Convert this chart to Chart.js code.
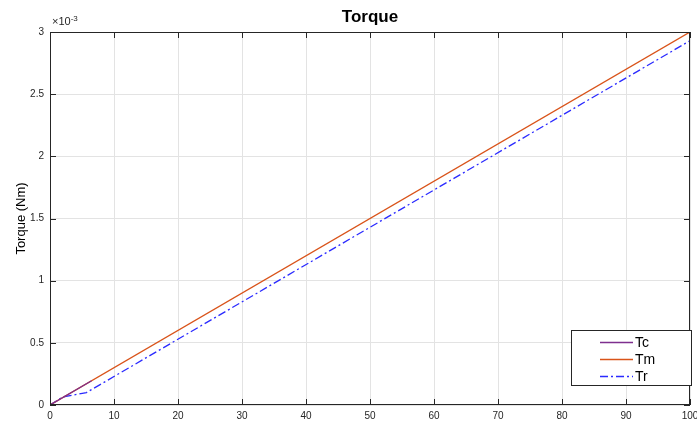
<!DOCTYPE html>
<html>
<head>
<meta charset="utf-8">
<script src="https://cdn.jsdelivr.net/npm/chart.js@4/dist/chart.umd.min.js"></script>
<style>
  html, body { margin: 0; padding: 0; background: #fff; }
  #wrap { width: 697px; height: 426px; }
</style>
</head>
<body>
<div id="wrap"><canvas id="torque-chart"></canvas></div>
<script>
// valores (Nm)
const seriesNames = ['Tc', 'Tm', 'Tr'];
const tcX = [0, 6.5];
const tcY = [0, 0.000195];
const tmX = [0, 100];
const tmY = [0, 0.003];
const trX = [0, 2, 5.7, 100];
const trY = [0, 0.000065, 0.0001, 0.00293];
const xTicks = [0, 10, 20, 30, 40, 50, 60, 70, 80, 90, 100];
const yTicks = [0, 0.0005, 0.001, 0.0015, 0.002, 0.0025, 0.003];

const toPoints = (xs, ys) => xs.map((x, i) => ({ x, y: ys[i] }));
const FONT = '"Liberation Sans", Arial, sans-serif';

// caja de ejes, ticks interiores, titulo, exponente y leyenda
const matlabAxes = {
    id: 'matlabAxes',
    afterDraw(chart) {
        const { ctx, chartArea: a, scales } = chart;
        ctx.save();
        ctx.strokeStyle = '#262626';
        ctx.lineWidth = 1;
        ctx.strokeRect(a.left + 0.5, a.top + 0.5, a.right - a.left - 1, a.bottom - a.top - 1);
        ctx.beginPath();
        xTicks.forEach(t => {
            const px = Math.round(scales.x.getPixelForValue(t)) + 0.5;
            ctx.moveTo(px, a.bottom); ctx.lineTo(px, a.bottom - 6);
            ctx.moveTo(px, a.top); ctx.lineTo(px, a.top + 6);
        });
        yTicks.forEach(t => {
            const py = Math.round(scales.y.getPixelForValue(t)) + 0.5;
            ctx.moveTo(a.left, py); ctx.lineTo(a.left + 6, py);
            ctx.moveTo(a.right, py); ctx.lineTo(a.right - 6, py);
        });
        ctx.stroke();

        // titulo
        ctx.fillStyle = '#000';
        ctx.font = 'bold 17px ' + FONT;
        ctx.textAlign = 'center';
        ctx.textBaseline = 'alphabetic';
        ctx.fillText('Torque', (a.left + a.right) / 2, 22);

        // exponente
        ctx.fillStyle = '#262626';
        ctx.textAlign = 'left';
        ctx.font = '11px ' + FONT;
        ctx.fillText('\u00d710', a.left + 2, 25);
        const w = ctx.measureText('\u00d710').width;
        ctx.font = '8px ' + FONT;
        ctx.fillText('-3', a.left + 2 + w, 21);

        // leyenda
        const lx = 571, ly = 330, lw = 120, lh = 55;
        ctx.fillStyle = '#fff';
        ctx.fillRect(lx, ly, lw, lh);
        ctx.strokeStyle = '#262626';
        ctx.strokeRect(lx + 0.5, ly + 0.5, lw, lh);
        chart.data.datasets.forEach((ds, i) => {
            const y = ly + 12 + i * 17;
            ctx.strokeStyle = ds.borderColor;
            ctx.lineWidth = ds.borderWidth;
            ctx.setLineDash(ds.borderDash || []);
            ctx.beginPath();
            ctx.moveTo(lx + 29, y + 0.5);
            ctx.lineTo(lx + 62, y + 0.5);
            ctx.stroke();
            ctx.setLineDash([]);
            ctx.fillStyle = '#000';
            ctx.font = '14px ' + FONT;
            ctx.textBaseline = 'middle';
            ctx.fillText(ds.label, lx + 64, y + 1);
        });
        ctx.restore();
    }
};

new Chart(document.getElementById('torque-chart'), {
    type: 'scatter',
    data: {
        datasets: [
            { label: seriesNames[0], data: toPoints(tcX, tcY), borderColor: '#7E2F8E', borderWidth: 1.3 },
            { label: seriesNames[1], data: toPoints(tmX, tmY), borderColor: '#D95319', borderWidth: 1.3 },
            { label: seriesNames[2], data: toPoints(trX, trY), borderColor: '#2b2bff', borderWidth: 1.3, borderDash: [8, 3, 2, 3] }
        ].map(d => ({ ...d, showLine: true, pointRadius: 0, fill: false }))
    },
    options: {
        responsive: true,
        maintainAspectRatio: false,
        animation: false,
        layout: { padding: { top: 32, right: 7, left: 0, bottom: 0 } },
        scales: {
            x: {
                type: 'linear', min: 0, max: 100,
                afterBuildTicks: s => { s.ticks = xTicks.map(v => ({ value: v })); },
                afterFit: s => { s.height = 21; s.paddingRight = 0; s.paddingLeft = 0; },
                grid: { color: '#e3e3e3', drawTicks: false },
                border: { display: false },
                ticks: { color: '#262626', font: { size: 10, family: FONT }, padding: 5, maxRotation: 0 }
            },
            y: {
                type: 'linear', min: 0, max: 0.003,
                afterBuildTicks: s => { s.ticks = yTicks.map(v => ({ value: v })); },
                afterFit: s => { s.width = 50; s.paddingTop = 0; s.paddingBottom = 0; },
                grid: { color: '#e3e3e3', drawTicks: false },
                border: { display: false },
                title: { display: true, text: 'Torque (Nm)', color: '#000', font: { size: 13, family: FONT }, padding: { top: 14, bottom: 0 } },
                ticks: {
                    color: '#262626', font: { size: 10, family: FONT }, padding: 6,
                    callback: v => String(Math.round(v * 10000) / 10)
                }
            }
        },
        plugins: { legend: { display: false }, tooltip: { enabled: false } }
    },
    plugins: [matlabAxes]
});
</script>
</body>
</html>
